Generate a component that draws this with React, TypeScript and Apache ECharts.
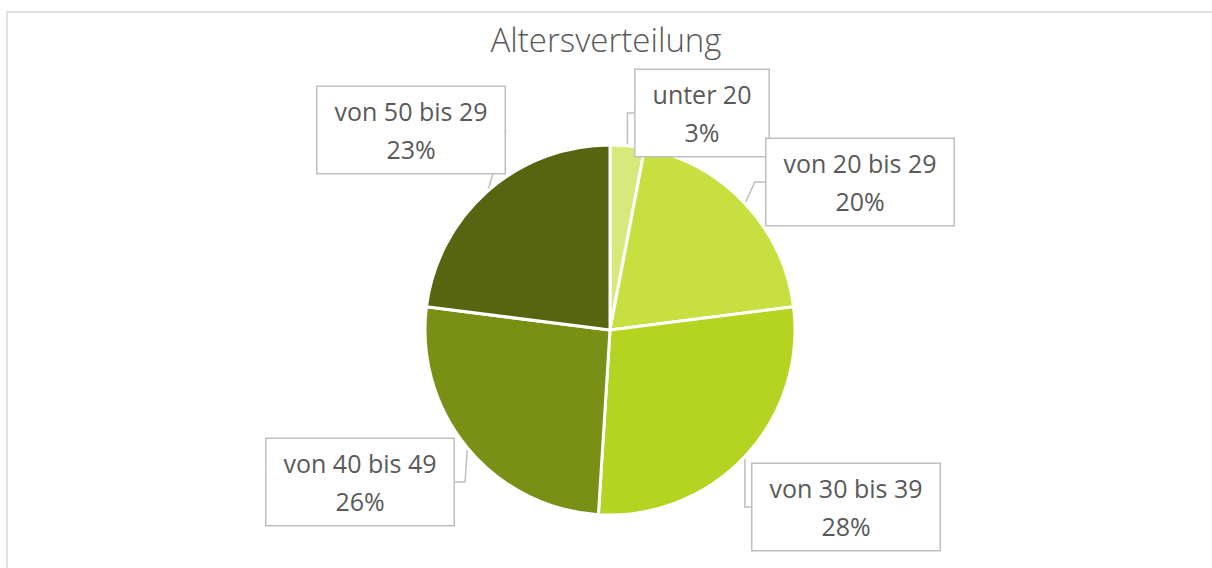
import React, { useEffect, useRef } from "react";
import * as echarts from "echarts";

const categories = ["unter 20", "von 20 bis 29", "von 30 bis 39", "von 40 bis 49", "von 50 bis 29"];
const values = [3, 20, 28, 26, 23];
const colors = ["#d6e97a", "#c7e03f", "#b5d321", "#7a8f15", "#576510"];
const labelCenters = [
  [702, 113],
  [860, 182],
  [846, 507],
  [360, 482],
  [411, 130],
];

export default function App() {
  const ref = useRef<HTMLDivElement>(null);
  useEffect(() => {
    if (!ref.current) return;
    const chart = echarts.init(ref.current, null, { renderer: "svg" });
    chart.setOption({
      animation: false,
      backgroundColor: "#ffffff",
      title: {
        text: "Altersverteilung",
        left: "center",
        top: 18,
        textStyle: { fontFamily: "Open Sans", fontSize: 33, fontWeight: 300, color: "#595959" },
      },
      graphic: [
        {
          type: "rect",
          shape: { x: 7, y: 12, width: 1400, height: 800 },
          style: { fill: "none", stroke: "#d9d9d9", lineWidth: 1.5 },
          silent: true,
        },
      ],
      series: [
        {
          type: "pie",
          center: [610, 330],
          radius: 185,
          startAngle: 90,
          clockwise: true,
          data: categories.map((c, i) => ({ name: c, value: values[i], itemStyle: { color: colors[i] } })),
          itemStyle: { borderColor: "#ffffff", borderWidth: 3 },
          label: {
            show: true,
            position: "outside",
            formatter: (p: any) => `${p.name}\n${Math.round(p.percent)}%`,
            fontFamily: "Open Sans",
            fontSize: 25,
            fontWeight: "normal",
            lineHeight: 38,
            color: "#595959",
            align: "center",
            backgroundColor: "#ffffff",
            borderColor: "#bfbfbf",
            borderWidth: 1.5,
            padding: [5, 17, 5, 17],
          },
          labelLine: {
            show: true,
            length: 10,
            length2: 10,
            lineStyle: { color: "#bfbfbf", width: 1.5 },
          },
          labelLayout: (params: any) => {
            const c = labelCenters[params.dataIndex];
            return { x: c[0], y: c[1], align: "center", verticalAlign: "middle" };
          },
          emphasis: { disabled: true },
        },
      ],
    });
    return () => chart.dispose();
  }, []);
  return <div ref={ref} style={{ position: "absolute", left: 0, top: 0, width: 1212, height: 568 }} />;
}
